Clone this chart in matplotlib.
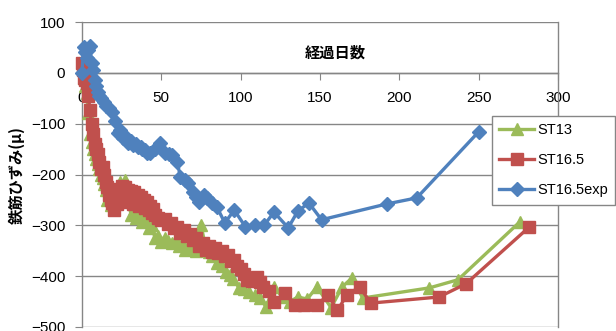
import matplotlib.pyplot as plt

plt.rcParams['font.family'] = ['Liberation Sans', 'Noto Sans CJK JP', 'DejaVu Sans']

# ST13
st13_days = [0, 1, 2, 3, 4, 5, 6, 7, 8, 9, 10, 11, 12, 13, 14, 15, 16, 17, 18, 19,
             20, 22, 24, 25, 27, 29, 31, 33, 34, 36, 38, 40, 42, 44, 46, 48, 50, 52, 54, 57,
             59, 61, 63, 65, 67, 69, 72, 75, 78, 80, 82, 85, 88, 91, 93, 95, 99, 102, 105, 109,
             112, 116, 121, 126, 131, 136, 142, 148, 157, 164, 170, 177, 219, 237, 276]
st13_vals = [10, -10, -25, -40, -80, -120, -136, -150, -160, -170, -180, -190, -200, -207, -218, -230, -250, -245, -260, -250,
             -255, -230, -215, -240, -211, -250, -280, -270, -285, -280, -293, -290, -305, -300, -325, -320, -333, -325, -330, -335,
             -330, -340, -335, -348, -340, -345, -350, -299, -345, -352, -360, -374, -380, -392, -398, -405, -423, -425, -432, -438,
             -443, -460, -421, -440, -450, -441, -445, -421, -462, -421, -404, -443, -423, -407, -293]

# ST16.5
st165_days = [0, 0.5, 1, 2, 3, 4, 5, 6, 7, 8, 9, 10, 11, 12, 13, 14, 15, 16, 17, 18,
              19, 20, 21, 22, 23, 24, 25, 26, 27, 28, 29, 30, 31, 32, 33, 34, 35, 36, 37, 38,
              39, 40, 41, 42, 43, 44, 45, 46, 48, 50, 52, 54, 56, 58, 60, 62, 64, 66, 68, 70,
              72, 74, 76, 78, 80, 82, 84, 86, 88, 90, 92, 94, 96, 98, 100, 102, 104, 107, 110, 112,
              114, 118, 121, 128, 134, 140, 148, 155, 161, 167, 175, 182, 225, 242, 282]
st165_vals = [20, 5, -10, -15, -20, -45, -73, -100, -120, -140, -150, -160, -175, -190, -185, -200, -215, -224, -240, -250,
              -256, -270, -240, -258, -228, -250, -222, -245, -225, -255, -230, -250, -232, -258, -235, -255, -240, -262, -245, -255,
              -250, -265, -255, -270, -262, -275, -268, -280, -285, -290, -288, -298, -295, -305, -303, -315, -310, -320, -318, -328,
              -325, -340, -335, -348, -340, -352, -345, -355, -350, -360, -358, -370, -368, -380, -385, -395, -407, -410, -402, -412,
              -421, -430, -451, -433, -457, -457, -457, -437, -467, -437, -421, -453, -441, -415, -303]

# ST16.5exp
exp_days = [0, 1, 2, 3, 4, 5, 6, 7, 8, 9, 10, 11, 12, 14, 15, 17, 19, 21, 23, 24,
            26, 27, 29, 31, 32, 34, 35, 37, 38, 40, 41, 43, 46, 49, 52, 55, 57, 60, 62, 65,
            67, 70, 72, 74, 77, 79, 82, 85, 90, 96, 103, 109, 115, 121, 130, 136, 143, 151, 192, 211,
            250]
exp_vals = [0, 50, 40, 30, 45, 52, 20, 5, -14, -25, -37, -45, -50, -57, -65, -70, -77, -95, -118, -112,
            -128, -125, -138, -135, -142, -140, -146, -145, -150, -152, -157, -157, -150, -138, -157, -160, -161, -175, -205, -210,
            -217, -234, -245, -254, -240, -246, -256, -264, -295, -270, -303, -299, -299, -274, -305, -272, -256, -289, -258, -246,
            -116]

grid_c = '#868686'

fig = plt.figure(figsize=(6.16, 3.31), dpi=100)
ax = fig.add_axes([82 / 616, 1 - 327 / 331, 476 / 616, 305 / 331])

ax.plot(st13_days, st13_vals, color='#9BBB59', lw=2.4, marker='^', ms=8.5,
        label='ST13', clip_on=False, zorder=3)
ax.plot(st165_days, st165_vals, color='#C0504D', lw=2.4, marker='s', ms=8.5,
        label='ST16.5', clip_on=False, zorder=4)
ax.plot(exp_days, exp_vals, color='#4F81BD', lw=2.4, marker='D', ms=7.5,
        label='ST16.5exp', clip_on=False, zorder=5)

ax.set_xlim(0, 300)
ax.set_ylim(-500, 100)
ax.set_xticks(range(0, 301, 50))
ax.set_yticks(range(-500, 101, 100))

ax.yaxis.grid(True, color=grid_c, lw=1)
ax.set_axisbelow(True)

ax.spines['bottom'].set_position(('data', 0))
ax.spines['top'].set_visible(False)
for s in ['bottom', 'left', 'right']:
    ax.spines[s].set_color(grid_c)
    ax.spines[s].set_linewidth(1)

ax.tick_params(axis='x', direction='out', length=5, color=grid_c, pad=8, labelsize=11)
ax.tick_params(axis='y', direction='out', length=5, color=grid_c, pad=7, labelsize=11)

fig.text(335 / 616, 1 - 53 / 331, '経過日数', ha='center', va='center',
         fontsize=11, fontweight='bold', family=['Noto Sans CJK JP', 'DejaVu Sans'])
fig.text(17 / 616, 1 - 175 / 331, '鉄筋ひずみ(μ)', ha='center', va='center', rotation=90,
         fontsize=11, fontweight='bold', family=['Noto Sans CJK JP', 'DejaVu Sans'])

leg = ax.legend(loc='upper left', bbox_to_anchor=(492 / 616, 1 - 116 / 331),
                bbox_transform=fig.transFigure, fontsize=10.5, fancybox=False,
                framealpha=1, edgecolor=grid_c, handlelength=2.4, labelspacing=1.1,
                borderpad=0.5, handletextpad=0.2, borderaxespad=0)
leg.get_frame().set_linewidth(1)
leg.set_zorder(10)

fig.savefig('out.png', dpi=100)
